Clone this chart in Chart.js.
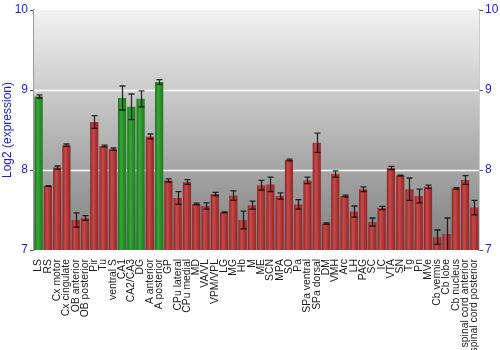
<!DOCTYPE html>
<html>
<head>
<meta charset="utf-8">
<script src="https://cdn.jsdelivr.net/npm/chart.js@4"></script>
<style>
  html, body { margin: 0; padding: 0; background: #fff; }
  #wrap { width: 500px; height: 350px; }
</style>
</head>
<body>
<div id="wrap"><canvas id="chart"></canvas></div>
<script>
const regions = ['LS', 'RS', 'Cx motor', 'Cx cingulate', 'OB anterior', 'OB posterior', 'Pir', 'Tu', 'ventral S',
  'CA1', 'CA2/CA3', 'DG', 'A anterior', 'A posterior', 'GP', 'CPu lateral', 'CPu medial', 'MD', 'VA/VL', 'VPM/VPL',
  'LG', 'MG', 'Hb', 'M', 'ME', 'SCN', 'MPA', 'SO', 'Pa', 'SPa ventral', 'SPa dorsal', 'DM', 'VMH', 'Arc', 'LH',
  'PAG', 'SC', 'IC', 'VTA', 'SN', 'Tg', 'Pn', 'MVe', 'Cb vermis', 'Cb lobe', 'Cb nucleus',
  'spinal cord anterior', 'spinal cord posterior'];

const expression = [8.92, 7.80, 8.03, 8.31, 7.375, 7.40, 8.60, 8.30, 8.26,
  8.90, 8.79, 8.89, 8.42, 9.10, 7.87, 7.65, 7.85, 7.575, 7.55, 7.70,
  7.47, 7.68, 7.375, 7.56, 7.81, 7.82, 7.675, 8.125, 7.57, 7.87, 8.34, 7.33, 7.95, 7.675, 7.48,
  7.76, 7.35, 7.525, 8.025, 7.93, 7.76, 7.675, 7.79, 7.16, 7.20, 7.77,
  7.875, 7.53];

const errors = [0.02, 0.005, 0.02, 0.015, 0.09, 0.03, 0.08, 0.01, 0.015,
  0.15, 0.16, 0.10, 0.03, 0.03, 0.02, 0.08, 0.03, 0.01, 0.04, 0.02,
  0.005, 0.06, 0.11, 0.05, 0.06, 0.09, 0.04, 0.01, 0.06, 0.04, 0.12, 0.01, 0.04, 0.01, 0.07,
  0.03, 0.05, 0.02, 0.02, 0.005, 0.14, 0.085, 0.02, 0.09, 0.20, 0.01,
  0.055, 0.09];

const highlighted = ['LS', 'CA1', 'CA2/CA3', 'DG', 'A posterior'];

const yTicks = [7, 8, 9, 10];

function barFill (context) {
  const chart = context.chart;
  const x = chart.scales.x;
  const green = highlighted.includes(regions[context.dataIndex]);
  if (!x || !chart.chartArea) return green ? '#2a962a' : '#b83838';
  const half = (x.width / regions.length) * 0.43;
  const cx = x.getPixelForValue(context.dataIndex);
  const g = chart.ctx.createLinearGradient(cx - half, 0, cx + half, 0);
  if (green) {
    g.addColorStop(0, '#1c6e1c');
    g.addColorStop(0.35, '#35a835');
    g.addColorStop(1, '#1f7a1f');
  } else {
    g.addColorStop(0, '#8c2323');
    g.addColorStop(0.35, '#c84a4a');
    g.addColorStop(1, '#922626');
  }
  return g;
}

const backdrop = {
  id: 'backdrop',
  beforeDatasetsDraw (chart) {
    const { ctx, chartArea: a } = chart;
    const g = ctx.createLinearGradient(0, a.top, 0, a.bottom);
    g.addColorStop(0, '#f2f2f2');
    g.addColorStop(1, '#7e7e7e');
    ctx.save();
    ctx.fillStyle = g;
    ctx.fillRect(a.left, a.top, a.right - a.left, a.bottom - a.top);
    // white grid lines
    ctx.strokeStyle = '#ffffff';
    ctx.lineWidth = 1.5;
    [8, 9].forEach(v => {
      const y = Math.round(chart.scales.y.getPixelForValue(v)) + 0.5;
      ctx.beginPath();
      ctx.moveTo(a.left, y);
      ctx.lineTo(a.right, y);
      ctx.stroke();
    });
    ctx.restore();
  }
};

const errorBars = {
  id: 'errorBars',
  afterDatasetsDraw (chart) {
    const { ctx } = chart;
    const x = chart.scales.x;
    const y = chart.scales.y;
    ctx.save();
    ctx.strokeStyle = 'rgba(0,0,0,0.8)';
    ctx.lineWidth = 1.3;
    expression.forEach((v, i) => {
      const px = Math.round(x.getPixelForValue(i)) + 0.5;
      const top = y.getPixelForValue(v + errors[i]);
      const bot = Math.min(y.getPixelForValue(v - errors[i]), chart.chartArea.bottom);
      ctx.beginPath();
      ctx.moveTo(px, top);
      ctx.lineTo(px, bot);
      ctx.moveTo(px - 3, top);
      ctx.lineTo(px + 3, top);
      if (bot < chart.chartArea.bottom) {
        ctx.moveTo(px - 3, bot);
        ctx.lineTo(px + 3, bot);
      }
      ctx.stroke();
    });
    ctx.restore();
  }
};

const axisFont = { family: 'Liberation Sans', size: 12 };

// eslint-disable-next-line no-undef
new Chart('chart', {
  type: 'bar',
  data: {
    labels: regions,
    datasets: [{
      data: expression,
      backgroundColor: barFill,
      borderWidth: 0,
      barPercentage: 0.88,
      categoryPercentage: 1
    }]
  },
  options: {
    responsive: true,
    maintainAspectRatio: false,
    animation: false,
    layout: { padding: { top: 10, right: 0, left: 0, bottom: 0 } },
    plugins: { legend: { display: false }, tooltip: { enabled: false } },
    scales: {
      x: {
        grid: { display: false },
        border: { display: false },
        ticks: {
          autoSkip: false,
          minRotation: 90,
          maxRotation: 90,
          padding: 1,
          color: '#222',
          font: { family: 'Liberation Sans', size: 10.4 }
        },
        afterFit: scale => { scale.height = 100; }
      },
      y: {
        position: 'left',
        min: 7,
        max: 10,
        afterBuildTicks: scale => { scale.ticks = yTicks.map(v => ({ value: v })); },
        grid: { drawOnChartArea: false, tickLength: 4, color: '#555' },
        border: { color: '#999', width: 1.5 },
        ticks: { color: '#1a1aff', font: axisFont, padding: 2 },
        title: { display: true, text: 'Log2 (expression)', color: '#1a1aff', font: axisFont, padding: 0 },
        afterFit: scale => { scale.width = 34; }
      },
      y2: {
        position: 'right',
        min: 7,
        max: 10,
        afterBuildTicks: scale => { scale.ticks = yTicks.map(v => ({ value: v })); },
        grid: { drawOnChartArea: false, tickLength: 4, color: '#555' },
        border: { color: '#999', width: 1.5 },
        ticks: { color: '#1a1aff', font: axisFont, padding: 2 },
        afterFit: scale => { scale.width = 21; }
      }
    }
  },
  plugins: [backdrop, errorBars]
});
</script>
</body>
</html>
